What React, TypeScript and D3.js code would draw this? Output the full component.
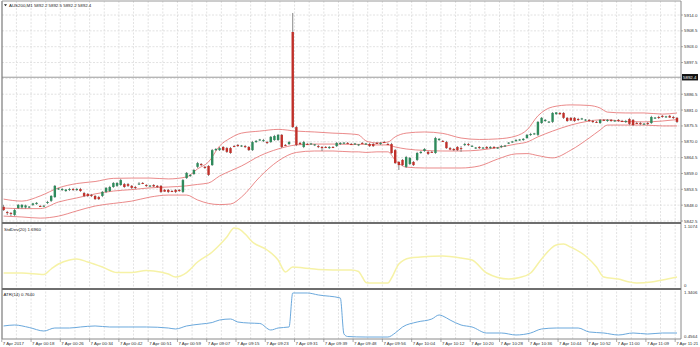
import React from "react";
import * as d3 from "d3";

// ---- Candles (AUS200, M1) ----
const openP = [
  5847.4,5845.6,5845.3,5844.6,5847.0,5847.2,5847.2,5847.4,5848.1,5848.4,
  5847.7,5847.7,5848.8,5849.5,5850.8,5853.6,5853.3,5852.9,5853.3,5853.6,
  5853.3,5853.6,5852.2,5851.9,5851.5,5851.2,5850.8,5851.2,5852.6,5852.9,
  5854.3,5854.7,5855.0,5855.3,5855.3,5854.7,5854.3,5855.3,5855.7,5855.0,
  5854.7,5855.0,5854.7,5854.7,5853.3,5853.3,5852.9,5853.3,5853.3,5852.6,
  5857.4,5858.1,5858.8,5861.3,5862.3,5861.3,5861.6,5861.9,5867.1,5867.1,
  5868.2,5867.8,5867.8,5868.5,5868.9,5868.5,5868.5,5868.2,5867.1,5869.9,
  5870.6,5870.3,5869.9,5869.9,5870.6,5870.6,5872.4,5868.9,5869.2,5908.1,
  5875.1,5869.6,5868.2,5869.2,5869.2,5868.9,5868.5,5868.2,5868.2,5867.8,
  5868.2,5868.5,5869.2,5869.6,5869.6,5869.2,5869.2,5868.9,5869.6,5869.2,
  5869.2,5869.2,5869.6,5869.2,5869.9,5869.2,5869.2,5867.1,5863.0,5863.7,
  5861.3,5862.3,5863.0,5863.7,5866.1,5866.8,5866.5,5866.5,5866.1,5870.6,
  5870.3,5869.9,5867.8,5867.5,5868.2,5867.8,5868.9,5869.2,5868.5,5867.8,
  5868.2,5867.8,5868.2,5867.8,5868.2,5867.8,5868.2,5868.5,5869.6,5869.9,
  5870.3,5870.6,5870.6,5871.3,5872.4,5872.7,5872.4,5876.5,5877.2,5876.9,
  5876.9,5879.6,5880.0,5880.0,5878.3,5878.3,5878.3,5877.9,5877.9,5877.6,
  5877.6,5877.2,5876.9,5876.5,5877.6,5877.2,5877.6,5877.2,5877.6,5877.2,
  5876.9,5877.9,5877.6,5876.5,5876.5,5876.2,5876.5,5876.5,5878.3,5878.6,
  5879.0,5878.6,5879.0,5878.6,5878.3,
];
const closeP = [
  5846.3,5845.5,5845.2,5846.3,5848.1,5848.1,5847.9,5847.5,5848.6,5848.8,
  5847.5,5847.8,5849.1,5851.2,5854.7,5853.8,5853.6,5853.4,5853.6,5853.3,
  5853.6,5852.9,5851.2,5851.2,5851.2,5850.1,5850.1,5852.6,5854.0,5854.3,
  5855.7,5855.7,5856.7,5854.3,5854.7,5854.0,5854.1,5855.5,5855.6,5854.7,
  5854.8,5854.5,5854.3,5852.6,5852.7,5852.6,5852.8,5852.6,5852.9,5856.7,
  5859.2,5858.5,5860.2,5862.6,5861.9,5860.9,5858.5,5867.1,5867.5,5867.8,
  5867.1,5866.5,5866.1,5868.4,5868.5,5868.7,5868.2,5867.1,5869.9,5870.3,
  5870.8,5870.6,5869.6,5871.7,5872.0,5872.4,5868.2,5868.7,5869.9,5875.1,
  5868.9,5869.2,5869.9,5869.1,5869.4,5869.1,5868.2,5867.8,5868.0,5868.2,
  5868.0,5869.6,5869.6,5869.7,5869.4,5869.1,5869.4,5869.1,5869.4,5869.4,
  5868.5,5868.5,5869.4,5869.6,5869.7,5869.1,5866.1,5862.6,5861.9,5861.9,
  5864.7,5864.4,5861.9,5866.1,5866.5,5867.5,5865.8,5866.3,5871.3,5871.0,
  5870.1,5867.8,5867.3,5867.1,5867.1,5867.7,5869.2,5868.9,5868.6,5868.0,
  5867.8,5868.0,5867.7,5868.2,5867.8,5868.0,5868.5,5868.7,5869.7,5870.1,
  5870.6,5870.8,5871.0,5872.4,5872.7,5872.9,5876.9,5878.3,5877.6,5877.0,
  5880.0,5880.2,5879.6,5878.3,5877.2,5877.4,5877.2,5877.6,5878.1,5877.7,
  5877.2,5876.9,5876.7,5877.6,5877.4,5877.6,5877.2,5877.4,5877.2,5877.0,
  5877.2,5876.2,5875.8,5876.3,5876.2,5876.3,5876.2,5878.6,5878.4,5878.3,
  5878.6,5878.8,5878.4,5878.3,5876.9,
];
const highP = [
  5848.1,5846.0,5845.6,5846.7,5848.4,5848.4,5848.2,5847.7,5848.8,5849.1,
  5848.1,5848.1,5849.5,5851.5,5855.0,5854.0,5854.0,5853.6,5854.0,5854.0,
  5854.0,5854.0,5852.6,5852.2,5851.9,5851.5,5851.2,5852.9,5854.3,5854.7,
  5856.0,5856.0,5857.1,5855.7,5855.7,5855.0,5854.7,5856.0,5856.0,5855.3,
  5855.0,5855.3,5855.0,5855.0,5853.6,5853.6,5853.3,5853.6,5853.6,5857.1,
  5859.5,5858.8,5860.6,5863.0,5862.6,5861.6,5861.9,5867.5,5867.8,5868.2,
  5868.5,5868.2,5868.2,5868.9,5869.2,5868.9,5868.9,5868.5,5870.3,5870.6,
  5871.0,5871.0,5870.3,5872.0,5872.4,5872.7,5872.7,5869.2,5870.3,5914.7,
  5875.5,5869.9,5870.3,5869.6,5869.6,5869.2,5868.9,5868.5,5868.5,5868.5,
  5868.5,5869.9,5869.9,5869.9,5869.9,5869.6,5869.6,5869.2,5869.9,5869.6,
  5869.6,5869.6,5869.9,5869.9,5870.3,5869.6,5869.6,5867.5,5863.3,5864.0,
  5865.1,5864.7,5863.3,5866.5,5866.8,5867.8,5866.8,5866.8,5871.7,5871.3,
  5870.6,5870.3,5868.2,5867.8,5868.5,5868.5,5869.6,5869.6,5868.9,5868.2,
  5868.5,5868.2,5868.5,5868.5,5868.5,5868.2,5868.9,5868.9,5869.9,5870.3,
  5871.0,5871.0,5871.3,5872.7,5873.1,5873.1,5877.2,5878.6,5877.9,5877.2,
  5880.3,5880.3,5880.3,5880.3,5878.6,5878.6,5878.6,5878.3,5878.3,5877.9,
  5877.9,5877.6,5877.2,5877.9,5877.9,5877.9,5877.9,5877.6,5877.9,5877.6,
  5877.6,5878.3,5877.9,5876.9,5876.9,5876.5,5876.9,5879.0,5878.6,5879.0,
  5879.3,5879.0,5879.3,5879.0,5878.6,
];
const lowP = [
  5846.0,5844.6,5844.2,5844.2,5846.7,5846.8,5846.8,5847.0,5847.7,5848.1,
  5847.4,5847.4,5848.4,5849.1,5850.5,5853.3,5852.9,5852.6,5852.9,5852.9,
  5852.9,5852.6,5850.8,5850.8,5850.8,5849.8,5849.8,5850.8,5852.2,5852.6,
  5854.0,5854.3,5854.7,5854.0,5854.3,5853.6,5853.6,5855.0,5855.3,5854.3,
  5854.3,5854.3,5854.0,5852.2,5852.6,5852.2,5852.6,5852.2,5852.6,5852.2,
  5857.1,5857.8,5858.5,5860.9,5861.6,5860.6,5858.1,5861.6,5866.8,5866.8,
  5866.8,5866.1,5865.8,5868.2,5868.2,5868.2,5867.8,5866.8,5866.8,5869.6,
  5870.3,5869.9,5869.2,5869.6,5870.3,5870.3,5867.8,5868.5,5868.9,5874.8,
  5868.5,5868.9,5867.8,5868.9,5868.9,5868.5,5867.8,5866.8,5867.8,5867.5,
  5867.8,5868.2,5868.9,5869.2,5869.2,5868.9,5868.9,5868.5,5869.2,5868.9,
  5868.2,5868.2,5869.2,5868.9,5869.6,5868.9,5865.8,5862.3,5860.2,5861.6,
  5860.9,5861.9,5861.6,5863.3,5865.8,5866.5,5865.4,5866.1,5865.8,5870.3,
  5869.9,5867.5,5867.1,5866.8,5866.8,5866.5,5868.5,5868.5,5868.2,5867.5,
  5867.5,5867.5,5867.5,5867.5,5867.5,5867.5,5867.8,5868.2,5869.2,5869.6,
  5869.9,5870.3,5870.3,5871.0,5872.0,5872.4,5872.0,5876.2,5876.9,5876.5,
  5876.5,5879.3,5879.3,5877.9,5876.9,5877.2,5876.9,5877.2,5877.6,5877.2,
  5876.9,5876.5,5876.5,5876.2,5877.2,5876.9,5876.9,5876.9,5876.9,5876.9,
  5876.5,5875.8,5875.5,5876.2,5875.8,5875.8,5875.8,5876.2,5877.9,5877.9,
  5878.3,5878.3,5878.3,5877.9,5876.5,
];

// ---- Bollinger Bands (20, 2) read at bar indices ----
const bandIdx = [0,5,10,15,20,25,30,35,40,45,50,53,56,59,62,65,70,75,80,85,90,95,97,99,102,105,107,110,115,120,125,130,135,140,143,146,150,155,160,163,165,170,175,180,184];
const bandUpper = [5850.1,5849.4,5851.2,5854.0,5855.5,5856.2,5857.3,5857.4,5857.4,5857.1,5857.8,5860.6,5863.0,5868.5,5871.3,5873.0,5873.7,5874.3,5873.7,5873.4,5873.0,5872.7,5872.4,5870.3,5869.6,5869.9,5871.7,5873.0,5873.4,5872.9,5871.3,5870.8,5871.0,5872.0,5874.1,5879.0,5882.1,5882.8,5882.6,5881.7,5880.3,5880.0,5880.0,5879.6,5880.0];
const bandMiddle = [5847.0,5846.8,5846.8,5849.1,5850.5,5851.9,5852.9,5853.4,5854.0,5854.3,5854.7,5855.2,5855.7,5858.1,5859.9,5861.6,5865.1,5867.5,5868.9,5869.2,5869.2,5869.1,5869.1,5869.1,5868.9,5868.9,5868.2,5867.5,5867.0,5866.8,5866.8,5867.1,5868.0,5869.2,5869.9,5871.7,5873.7,5875.8,5877.2,5877.6,5877.6,5877.0,5876.9,5877.2,5877.7];
const bandLower = [5844.2,5843.9,5843.5,5844.2,5846.0,5847.7,5848.6,5849.4,5850.8,5851.5,5851.5,5849.8,5848.6,5848.2,5848.4,5850.8,5857.8,5863.3,5866.3,5866.8,5866.8,5866.5,5866.5,5866.3,5866.5,5866.5,5863.7,5861.2,5860.9,5860.9,5860.9,5861.6,5864.0,5865.8,5865.9,5865.2,5864.4,5867.1,5871.3,5874.1,5875.8,5875.8,5875.8,5875.5,5875.5];

// ---- StdDev(20) ----
const stdIdx = [0,5,11,13,15,18,20,23,27,31,35,39,41,45,47,50,53,57,59,61,63,64,66,68,72,75,77,79,82,86,90,95,97,98,99,100,105,106,108,111,114,120,125,128,132,138,141,144,147,151,153,155,159,162,164,168,171,173,177,180,184];
const stdVal = [0.249,0.249,0.221,0.323,0.415,0.489,0.508,0.452,0.360,0.258,0.258,0.295,0.286,0.231,0.175,0.258,0.452,0.637,0.766,0.914,1.080,1.071,0.969,0.821,0.674,0.489,0.268,0.360,0.341,0.314,0.305,0.305,0.277,0.175,0.074,0.065,0.065,0.157,0.415,0.526,0.544,0.563,0.526,0.489,0.249,0.138,0.166,0.249,0.508,0.766,0.784,0.726,0.563,0.360,0.175,0.138,0.083,0.065,0.083,0.120,0.175];

// ---- ATR(14) ----
const atrIdx = [0,3,7,11,14,18,21,25,29,34,39,45,47,50,54,57,59,62,64,67,70,73,75,78,79,83,86,92,93,94,99,105,107,109,113,117,119,120,122,125,128,132,136,140,144,147,151,157,160,164,168,172,176,180,184];
const atrVal = [0.673,0.692,0.643,0.574,0.633,0.633,0.653,0.673,0.653,0.653,0.653,0.633,0.614,0.673,0.712,0.741,0.790,0.810,0.751,0.731,0.722,0.594,0.633,0.653,1.321,1.321,1.282,1.223,0.515,0.466,0.456,0.456,0.535,0.653,0.751,0.810,0.889,0.869,0.790,0.692,0.653,0.535,0.535,0.496,0.535,0.614,0.633,0.633,0.555,0.535,0.496,0.535,0.515,0.535,0.535];

// ---- Axis labels ----
const priceTicks = [5914.0,5908.5,5903.0,5897.5,5892.0,5886.5,5881.0,5875.5,5870.0,5864.5,5859.0,5853.5,5848.0,5842.5];
const priceLabels = ["5914.0","5908.5","5903.0","5897.5","","5886.5","5881.0","5875.5","5870.0","5864.5","5859.0","5853.5","5848.0","5842.5"];
const timeLabels = ["7 Apr 2017","7 Apr 00:18","7 Apr 00:26","7 Apr 00:34","7 Apr 00:42","7 Apr 00:51","7 Apr 00:59","7 Apr 09:07","7 Apr 09:15","7 Apr 09:23","7 Apr 09:31","7 Apr 09:39","7 Apr 09:48","7 Apr 09:56","7 Apr 10:04","7 Apr 10:12","7 Apr 10:20","7 Apr 10:28","7 Apr 10:36","7 Apr 10:44","7 Apr 10:52","7 Apr 11:00","7 Apr 11:09","7 Apr 11:21"];
const lastPrice = 5892.4;
const titleText = "AUS200,M1  5892.2 5892.5 5892.2 5892.4";
const stdTitle = "StdDev(20) 1.6960";
const atrTitle = "ATR(14) 0.7640";

export default function App() {
  const W = 700, H = 347;
  const left = 2, right = 681;
  const mainTop = 1, mainBot = 223, stdBot = 289, atrBot = 339;
  const font = "'Liberation Sans', Arial, sans-serif";
  const fs = 4.4;

  const x = d3.scaleLinear().domain([0, 184]).range([3.6, 677]);
  const y = d3.scaleLinear().domain([5842.5, 5914]).range([221, 15]);
  const yStd = d3.scaleLinear().domain([0, 1.1074]).range([286.5, 226.5]);
  const yAtr = d3.scaleLinear().domain([0.4564, 1.3406]).range([337, 292]);

  const bandLine = (vals: number[]) =>
    d3.line<number>().x((_, j) => x(bandIdx[j])).y((d) => y(d)).curve(d3.curveMonotoneX)(vals) || "";
  const stdPath = d3.line<number>().x((_, j) => x(stdIdx[j])).y((d) => yStd(d)).curve(d3.curveMonotoneX)(stdVal) || "";
  const atrPath = d3.line<number>().x((_, j) => x(atrIdx[j])).y((d) => yAtr(d)).curve(d3.curveMonotoneX)(atrVal) || "";

  const vGrid: number[] = [];
  for (let k = 0; k * 4 - 0.5 <= 186; k++) {
    const gx = x(k * 4 - 0.5);
    if (gx > left + 1 && gx < right - 1) vGrid.push(gx);
  }
  const bodyW = 2.4;
  const bull = "#2f8a5c", bear = "#c0302a";

  return (
    <svg width={W} height={H} style={{ position: "absolute", left: 0, top: 0, background: "#fff" }} fontFamily={font}>
      <rect x={0} y={0} width={W} height={H} fill="#fff" />
      {vGrid.map((gx, i) => (
        <line key={"vg" + i} x1={gx} x2={gx} y1={mainTop} y2={atrBot} stroke="#dadada" strokeWidth={0.8} strokeDasharray="2,1.5" />
      ))}
      {priceTicks.map((p, i) => (
        <line key={"hg" + i} x1={left} x2={right} y1={y(p)} y2={y(p)} stroke="#dadada" strokeWidth={0.8} strokeDasharray="2,1.5" />
      ))}
      <line x1={left} x2={right} y1={y(lastPrice)} y2={y(lastPrice)} stroke="#9a9a9a" strokeWidth={1} />

      {[bandUpper, bandMiddle, bandLower].map((b, i) => (
        <path key={"bb" + i} d={bandLine(b)} fill="none" stroke="#e46c6c" strokeWidth={0.8} />
      ))}

      {openP.map((o, i) => {
        const c = closeP[i];
        const cx = x(i);
        const top = y(Math.max(o, c));
        const bot = y(Math.min(o, c));
        const col = c > o ? bull : c < o ? bear : "#333";
        return (
          <g key={"c" + i}>
            <line x1={cx} x2={cx} y1={y(highP[i])} y2={y(lowP[i])} stroke="#6a6a6a" strokeWidth={0.8} />
            <rect x={cx - bodyW / 2} y={top} width={bodyW} height={Math.max(1, bot - top)} fill={col} />
          </g>
        );
      })}

      <path d={stdPath} fill="none" stroke="#f6f2a6" strokeWidth={1.5} />
      <path d={atrPath} fill="none" stroke="#6aa8dc" strokeWidth={1} />

      <line x1={left} x2={left} y1={mainTop} y2={atrBot} stroke="#7a7a7a" strokeWidth={1.2} />
      <line x1={left} x2={right} y1={mainTop} y2={mainTop} stroke="#9a9a9a" strokeWidth={1} />
      <line x1={right} x2={right} y1={mainTop} y2={atrBot} stroke="#8a8a8a" strokeWidth={1} />
      <line x1={left} x2={right} y1={mainBot} y2={mainBot} stroke="#6e6e6e" strokeWidth={2} />
      <line x1={left} x2={right} y1={stdBot} y2={stdBot} stroke="#6e6e6e" strokeWidth={2} />
      <line x1={left} x2={right} y1={atrBot} y2={atrBot} stroke="#8a8a8a" strokeWidth={1} />

      {priceTicks.map((p, i) =>
        priceLabels[i] ? (
          <g key={"pl" + i}>
            <line x1={right} x2={right + 2} y1={y(p)} y2={y(p)} stroke="#777" strokeWidth={0.6} />
            <text x={right + 3} y={y(p)} dy="0.35em" fontSize={fs} fill="#333">{priceLabels[i]}</text>
          </g>
        ) : null
      )}
      <rect x={right + 1} y={y(lastPrice) - 3.2} width={16} height={6.4} fill="#111" />
      <text x={right + 2} y={y(lastPrice)} dy="0.35em" fontSize={fs} fill="#fff">{lastPrice.toFixed(1)}</text>

      <text x={right + 3} y={yStd(1.1074)} dy="0.35em" fontSize={fs} fill="#333">1.1074</text>
      <text x={right + 3} y={yStd(0) - 1.5} dy="0.35em" fontSize={fs} fill="#333">0</text>
      <text x={right + 3} y={yAtr(1.3406)} dy="0.35em" fontSize={fs} fill="#333">1.3406</text>
      <text x={right + 3} y={yAtr(0.4564) - 1} dy="0.35em" fontSize={fs} fill="#333">0.4564</text>

      <path d="M4,4.2 L7,4.2 L5.5,6.2 Z" fill="#222" />
      <text x={9} y={5.3} dy="0.35em" fontSize={fs} fill="#222">{titleText}</text>
      <text x={4} y={229} dy="0.35em" fontSize={fs} fill="#222">{stdTitle}</text>
      <text x={3.5} y={294} dy="0.35em" fontSize={fs} fill="#222">{atrTitle}</text>

      {timeLabels.map((t, k) => {
        const tx = x(k * 8 - 0.5);
        return (
          <g key={"tl" + k}>
            <line x1={tx} x2={tx} y1={atrBot} y2={atrBot + 3} stroke="#777" strokeWidth={0.6} />
            <text x={tx + 1} y={343.5} dy="0.35em" fontSize={fs} fill="#333">{t}</text>
          </g>
        );
      })}
    </svg>
  );
}
